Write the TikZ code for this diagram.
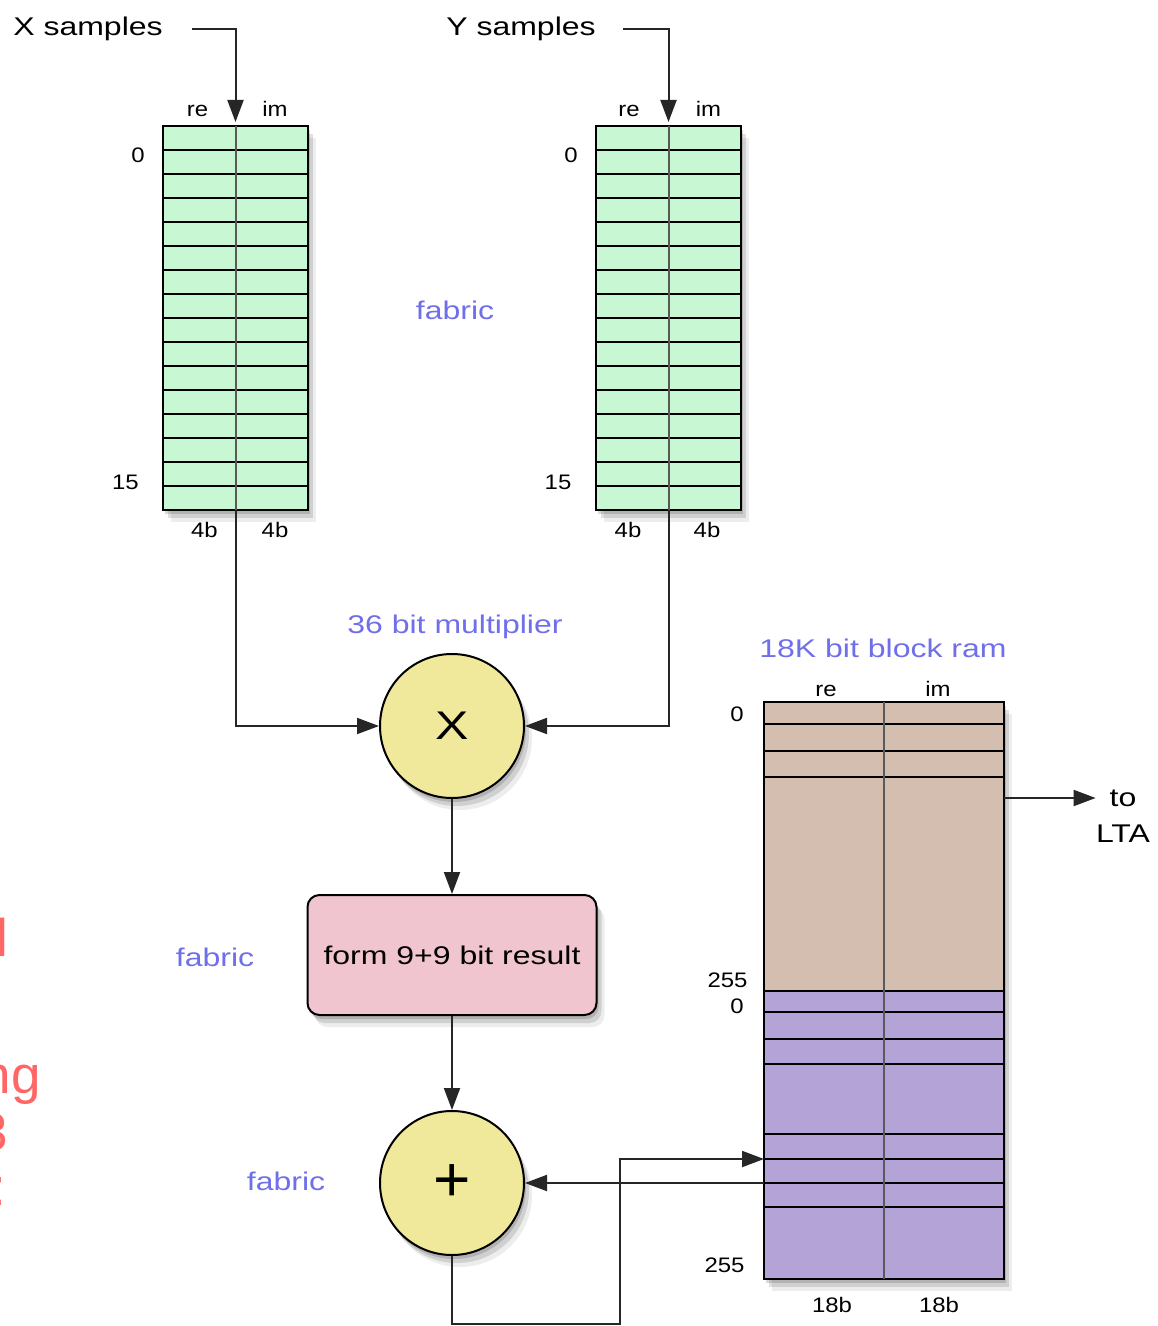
\documentclass[tikz,border=0pt]{standalone}
\usepackage{fontspec}
\setmainfont{Liberation Sans}
\newfontfamily\bigf[FakeStretch=1.25]{Liberation Sans}
\newfontfamily\smallf[FakeStretch=1.14]{Liberation Sans}
\usetikzlibrary{arrows.meta,shadows,calc}
\definecolor{gfill}{HTML}{C8F7D4}
\definecolor{brownc}{HTML}{D4BEB0}
\definecolor{purpc}{HTML}{B4A3D6}
\definecolor{yellowc}{HTML}{F0E89A}
\definecolor{pinkc}{HTML}{F0C5CF}
\definecolor{bluec}{HTML}{6F6FEA}
\definecolor{redc}{HTML}{FF6666}
\begin{document}
\begin{tikzpicture}[x=0.5pt,y=-0.5pt,
  big/.style={font=\bigf\fontsize{12.8pt}{15pt}\selectfont, inner sep=0pt},
  bluet/.style={big, text=bluec},
  small/.style={font=\smallf\fontsize{10.5pt}{12pt}\selectfont, inner sep=0pt},
  redt/.style={font=\fontsize{26.5pt}{30pt}\selectfont, text=redc, inner sep=0pt, anchor=base east},
  arr/.style={draw=black!85, line width=1pt, -{Triangle[length=11pt,width=8pt]}},
  shad/.style={general shadow={shadow xshift=1pt, shadow yshift=-2pt, fill=black, opacity=0.15},
               general shadow={shadow xshift=2.5pt, shadow yshift=-4pt, fill=black, opacity=0.12},
               general shadow={shadow xshift=4pt, shadow yshift=-6pt, fill=black, opacity=0.07}},
  tbl/.style={draw=black, line width=1.1pt, shad, anchor=north west, inner sep=0pt, outer sep=0pt},
  rowline/.style={line width=1pt, draw=black},
  div/.style={line width=1pt, draw=black!65},
  circ/.style={circle, draw=black, line width=1pt, fill=yellowc, minimum size=72pt, inner sep=0pt, shad}
]
\useasboundingbox (0,0) rectangle (1157,1326);

% ---------- input tables ----------
\node[tbl, fill=gfill, minimum width=72.5pt, minimum height=192pt] (xt) at (163,126) {};
\foreach \i in {1,...,15} \draw[rowline] (163,{126+24*\i}) -- (308,{126+24*\i});
\draw[div] (xt.north) -- (xt.south);

\node[tbl, fill=gfill, minimum width=72.5pt, minimum height=192pt] (yt) at (596,126) {};
\foreach \i in {1,...,15} \draw[rowline] (596,{126+24*\i}) -- (741,{126+24*\i});
\draw[div] (yt.north) -- (yt.south);

% ---------- block ram ----------
\node[tbl, fill=brownc, minimum width=120pt, minimum height=144.5pt] (ramA) at (764,702) {};
\node[tbl, fill=purpc, minimum width=120pt, minimum height=144pt] (ramB) at (764,991) {};
\foreach \yy in {724,751,777,1012,1039,1064,1134,1159,1183,1207} \draw[rowline] (764,\yy) -- (1004,\yy);
\draw[div] (ramA.north) -- (ramB.south);

% ---------- operators ----------
\node[circ, font=\bigf\fontsize{20pt}{24pt}\selectfont] (mul) at (452,726) {X};
\node[draw=black, line width=1pt, rounded corners=6pt, fill=pinkc, minimum width=144.5pt, minimum height=60pt, shad, big] (res) at (452,955) {form 9+9 bit result};
\node[circ, font=\fontsize{32pt}{36pt}\selectfont] (add) at (452,1183) {+};

% ---------- texts ----------
\node[big, anchor=base] (xs) at (88,36) {X samples};
\node[big, anchor=base] (ys) at (521,36) {Y samples};
\node[bluet, anchor=base] (fab1) at (455,320) {fabric};
\node[bluet, anchor=base] (mult) at (455,633) {36 bit multiplier};
\node[bluet, anchor=base] (bram) at (883,657) {18K bit block ram};
\node[bluet, anchor=base] (fab2) at (215,966) {fabric};
\node[bluet, anchor=base] (fab3) at (286,1190) {fabric};
\node[big, anchor=base] (to) at (1123,806) {to};
\node[big, anchor=base] (lta) at (1123,842) {LTA};

\node[small, anchor=base] (xre) at (197.5,117) {re};
\node[small, anchor=base] (xim) at (275,117) {im};
\node[small, anchor=base] (yre) at (629,117) {re};
\node[small, anchor=base] (yim) at (708.5,117) {im};
\node[small, anchor=base] (x0) at (138,163) {0};
\node[small, anchor=base] (x15) at (125.5,489) {15};
\node[small, anchor=base] (y0) at (571,163) {0};
\node[small, anchor=base] (y15) at (558,489) {15};
\node[small, anchor=base] (x4a) at (204.5,537) {4b};
\node[small, anchor=base] (x4b) at (275,537) {4b};
\node[small, anchor=base] (y4a) at (628,537) {4b};
\node[small, anchor=base] (y4b) at (707,537) {4b};
\node[small, anchor=base] (rre) at (826,696) {re};
\node[small, anchor=base] (rim) at (938,696) {im};
\node[small, anchor=base] (r0a) at (737,721) {0};
\node[small, anchor=base] (r255a) at (727.5,987) {255};
\node[small, anchor=base] (r0b) at (737,1013) {0};
\node[small, anchor=base] (r255b) at (724.5,1272) {255};
\node[small, anchor=base] (r18a) at (832,1312) {18b};
\node[small, anchor=base] (r18b) at (939,1312) {18b};

% cut-off red text at the left edge (as in the reference)
\node[redt] (red1) at (9,956) {l};
\node[redt] (red2) at (41,1093) {ng};
\node[redt] (red3) at (8,1150) {3};
\node[redt] (red4) at (7,1205) {:};

% ---------- connectors ----------
\coordinate (xsa) at (192,29);
\coordinate (ysa) at (623,29);
\draw[arr, shorten >=2pt] (xsa) -| (xt.north);
\draw[arr, shorten >=2pt] (ysa) -| (yt.north);
\draw[arr] (xt.south) |- (mul.west);
\draw[arr] (yt.south) |- (mul.east);
\draw[arr] (mul.south) -- (res.north);
\draw[arr] (res.south) -- (add.north);
\coordinate (ltaout) at ($(ramA.north east)+(0,96)$);
\draw[arr] (ltaout) -- (ltaout -| lta.west);
\coordinate (fbc) at (620,1324);
\coordinate (ramin) at ($(ramB.north west)+(0,168)$);
\draw[arr] (add.south) |- (fbc) |- (ramin);
\coordinate (ramout) at ($(ramB.north west)+(0,192)$);
\draw[arr] (ramout) -- (add.east);
\end{tikzpicture}
\end{document}
